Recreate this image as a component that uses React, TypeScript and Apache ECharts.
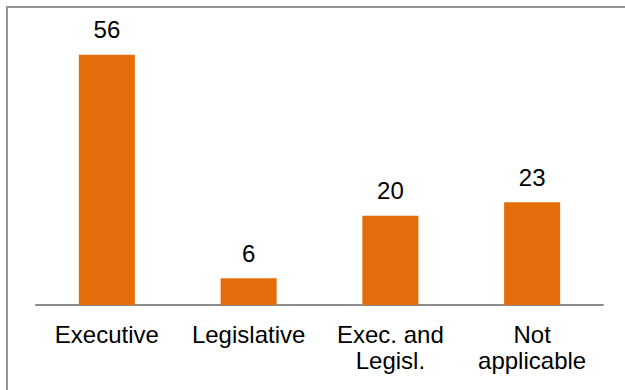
import React, { useEffect, useRef } from "react";
import * as echarts from "echarts";

const categories = ["Executive", "Legislative", "Exec. and\nLegisl.", "Not\napplicable"];
const values = [56, 6, 20, 23];

export default function App() {
  const ref = useRef<HTMLDivElement>(null);
  useEffect(() => {
    const chart = echarts.init(ref.current!, null, { renderer: "svg" });
    chart.setOption({
      animation: false,
      backgroundColor: "#ffffff",
      grid: { left: 36, right: 22, top: 37, bottom: 85, containLabel: false },
      xAxis: {
        type: "category",
        data: categories,
        axisLine: { show: true, lineStyle: { color: "#8c8c8c", width: 2 } },
        axisTick: { show: false },
        axisLabel: {
          color: "#000",
          fontFamily: "Liberation Sans, Arial, sans-serif",
          fontSize: 24,
          margin: 16,
          lineHeight: 26,
          interval: 0,
        },
      },
      yAxis: {
        type: "value",
        min: 0,
        max: 60,
        show: false,
        splitLine: { show: false },
      },
      series: [
        {
          type: "bar",
          data: values,
          barWidth: 56,
          itemStyle: { color: "#E46C0A" },
          label: {
            show: true,
            position: "top",
            distance: 13,
            color: "#000",
            fontFamily: "Liberation Sans, Arial, sans-serif",
            fontSize: 24,
          },
        },
      ],
    });
    return () => chart.dispose();
  }, []);
  return (
    <div style={{ position: "fixed", left: 0, top: 0, width: 625, height: 390, overflow: "hidden", background: "#fff" }}>
      <div ref={ref} style={{ position: "absolute", left: 0, top: 0, width: 625, height: 390 }} />
      <div
        style={{
          position: "absolute",
          left: 6,
          top: 6,
          width: 700,
          height: 500,
          borderTop: "2px solid #959595",
          borderLeft: "2px solid #959595",
          pointerEvents: "none",
        }}
      />
    </div>
  );
}
